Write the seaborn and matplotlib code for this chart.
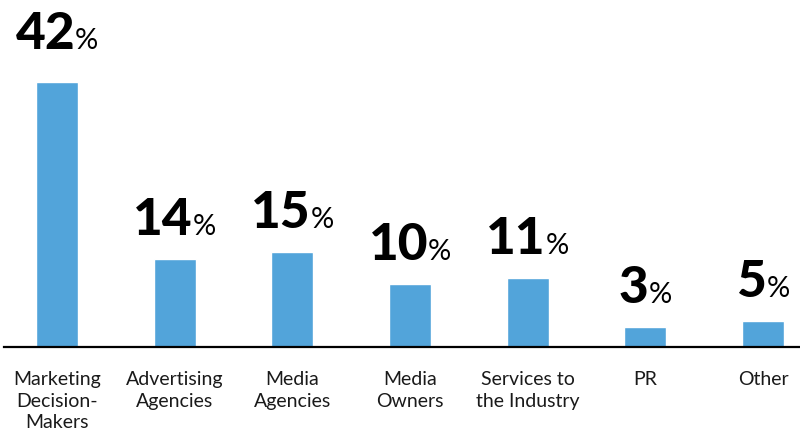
import pandas as pd
import matplotlib
matplotlib.use("Agg")
import matplotlib.pyplot as plt
import seaborn as sns
from matplotlib.offsetbox import TextArea, HPacker, AnnotationBbox

categories = ["Marketing\nDecision-\nMakers", "Advertising\nAgencies", "Media\nAgencies",
              "Media\nOwners", "Services to\nthe Industry", "PR", "Other"]
heights = [42, 13.9, 15.0, 10.0, 11.0, 3.1, 4.1]
labels = ["42", "14", "15", "10", "11", "3", "5"]

df = pd.DataFrame({"cat": categories, "val": heights})

sns.set_style("white")
plt.rcParams['font.family'] = ['Lato', 'DejaVu Sans']

fig = plt.figure(figsize=(8, 4.33), dpi=100)
ax = fig.add_axes([4 / 800, 86 / 433, 796 / 800, 347 / 433])

sns.barplot(data=df, x="cat", y="val", color="#52a4da", width=0.357,
            saturation=1, ax=ax)

ax.set_xlim(-0.45, 6.314)
ax.set_ylim(0, 347 / 6.31)

for s in ["top", "right", "left"]:
    ax.spines[s].set_visible(False)
ax.spines["bottom"].set_linewidth(1.6)
ax.spines["bottom"].set_color("black")
ax.set_yticks([])
ax.set_xlabel("")
ax.set_ylabel("")
ax.tick_params(axis="x", length=0, pad=17, labelsize=14, labelcolor="#1a1a1a")
for t in ax.get_xticklabels():
    t.set_linespacing(1.35)
    t.set_verticalalignment("top")

#value labels with smaller % sign
for i, (h, lab) in enumerate(zip(heights, labels)):
    num = TextArea(lab, textprops=dict(size=37, weight="black", color="black"))
    pct = TextArea("%", textprops=dict(size=21, color="black"))
    box = HPacker(children=[num, pct], align="baseline", pad=0, sep=0)
    off = 15 if i > 0 else 24
    ab = AnnotationBbox(box, (i, h), xybox=(0, off * 0.72), boxcoords="offset points",
                        box_alignment=(0.5, 0), frameon=False, pad=0,
                        annotation_clip=False)
    ax.add_artist(ab)

plt.savefig("out.png", dpi=100)
